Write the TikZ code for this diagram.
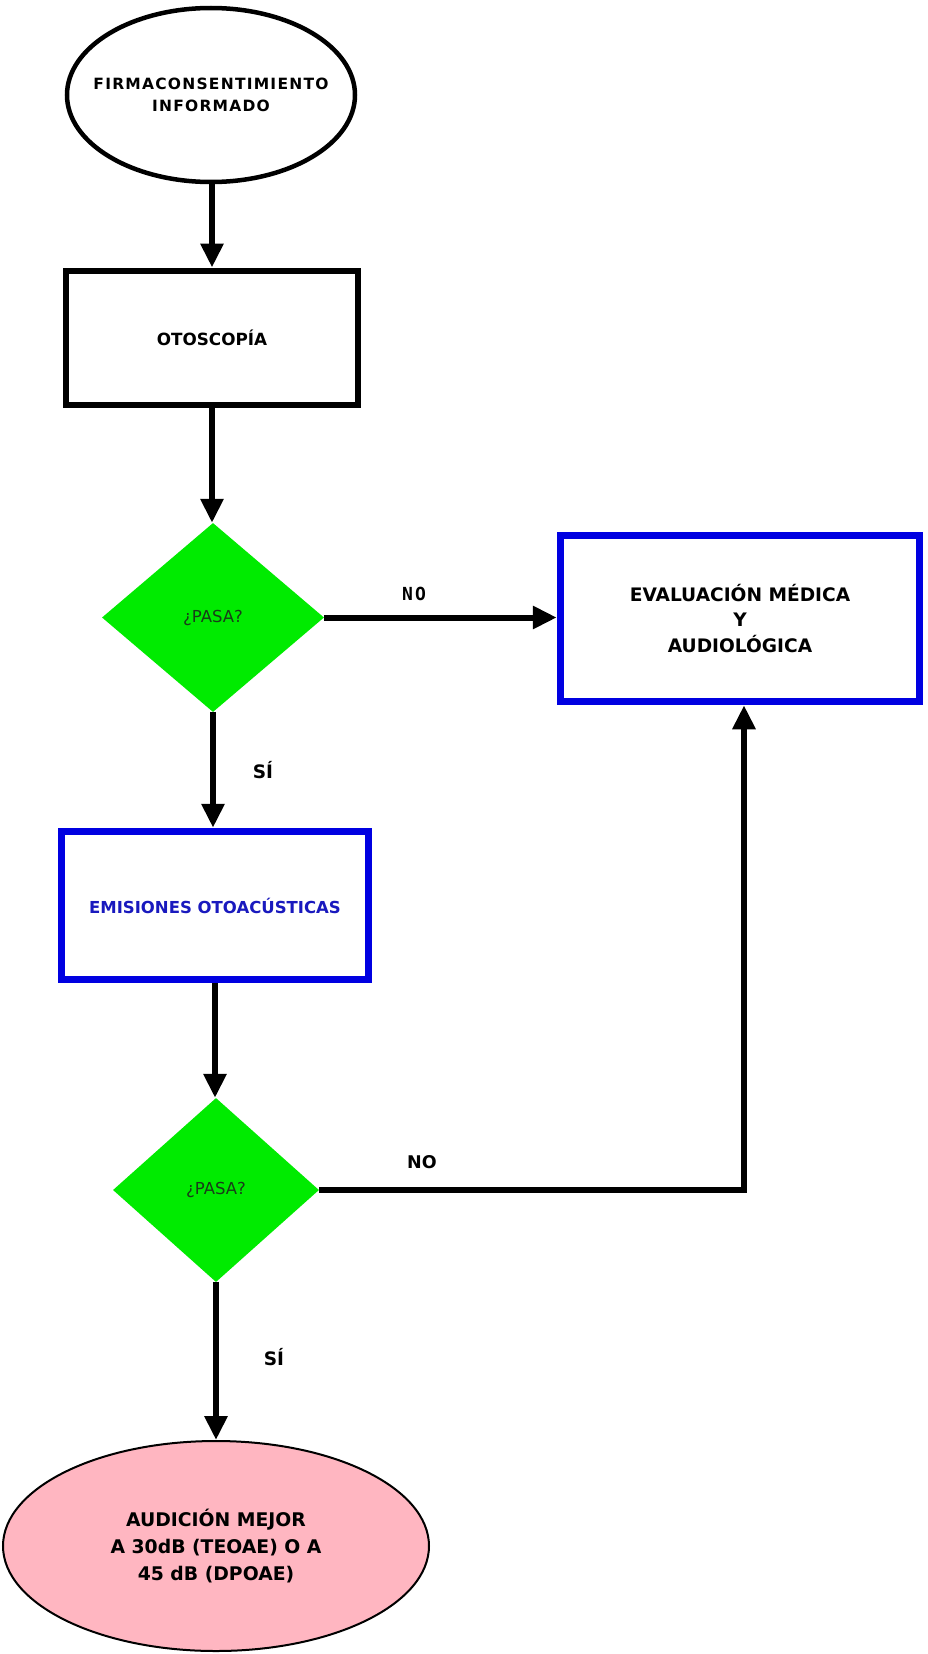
\documentclass[tikz,border=0pt]{standalone}
\usepackage{fontspec}
\setmainfont{DejaVu Sans}
\newfontfamily\monofont{DejaVu Sans Mono}
\usetikzlibrary{shapes.geometric,arrows.meta}
\definecolor{dgreen}{RGB}{0,235,0}
\definecolor{pasatext}{RGB}{25,60,25}
\definecolor{bblue}{RGB}{0,0,225}
\definecolor{tblue}{RGB}{25,25,190}
\definecolor{pinkfill}{RGB}{255,182,193}
\begin{document}
\begin{tikzpicture}[x=1pt,y=-1pt,
  arr/.style={line width=6pt,-{Triangle[length=24pt,width=22pt]}},
  decision/.style={diamond,fill=dgreen,inner sep=0pt,text=pasatext,font=\fontsize{16.5}{19}\selectfont},
  bluebox/.style={draw=bblue,line width=7.5pt,inner sep=0pt,align=center},
  lbl/.style={font=\bfseries\fontsize{18.5}{21}\selectfont}]
\useasboundingbox (0,0) rectangle (928,1654);
\fill[white] (0,0) rectangle (928,1654);

\node[ellipse,draw,line width=4.5pt,minimum width=288pt,minimum height=174pt,inner sep=0pt,
  label={[align=center,font=\bfseries\fontsize{15.5}{22}\selectfont\addfontfeature{LetterSpace=8}]center:{FIRMACONSENTIMIENTO\\INFORMADO}}] (e1) at (211,95) {};

\node[draw,line width=6pt,minimum width=292pt,minimum height=134pt,inner sep=0pt,
  font=\bfseries\fontsize{16.8}{20}\selectfont] (b1) at (212,337.5) {OTOSCOPÍA};

\node[decision,minimum width=222pt,minimum height=189pt] (d1) at (213,617.5) {¿PASA?};

\node[bluebox,minimum width=359pt,minimum height=166pt,
  font=\bfseries\fontsize{18.6}{25.5}\selectfont] (b2) at (740,618.5) {EVALUACIÓN MÉDICA\\Y\\AUDIOLÓGICA};

\node[bluebox,minimum width=307pt,minimum height=148pt,text=tblue,
  font=\bfseries\fontsize{16.5}{20}\selectfont] (b3) at (215,905.5) {EMISIONES OTOACÚSTICAS};

\node[decision,minimum width=206pt,minimum height=184pt] (d2) at (216,1190) {¿PASA?};

\node[ellipse,draw,line width=2pt,fill=pinkfill,minimum width=426pt,minimum height=210pt,inner sep=0pt,
  align=center,font=\bfseries\fontsize{18.8}{27}\selectfont] (e2) at (216,1546) {AUDICIÓN MEJOR\\A 30dB (TEOAE) O A\\45 dB (DPOAE)};

\node[font=\monofont\bfseries\fontsize{18}{20}\selectfont\addfontfeature{LetterSpace=12}] (no1) at (414,594) {NO};
\node[lbl] (si1) at (263,770) {SÍ};
\node[font=\bfseries\fontsize{17.5}{20}\selectfont] (no2) at (422,1162) {NO};
\node[lbl] (si2) at (274,1357) {SÍ};

\draw[arr] (e1.south -| b1.north) -- (b1.north);
\draw[arr] (b1.south) -- (b1.south |- d1.north);
\draw[arr] (d1.east) -- (d1.east -| b2.west);
\draw[arr] (d1.south) -- (d1.south |- b3.north);
\draw[arr] (b3.south) -- (b3.south |- d2.north);
\draw[arr,line join=miter] (d2.east) -| ([xshift=4pt]b2.south);
\draw[arr] (d2.south) -- (d2.south |- e2.north);
\end{tikzpicture}
\end{document}
